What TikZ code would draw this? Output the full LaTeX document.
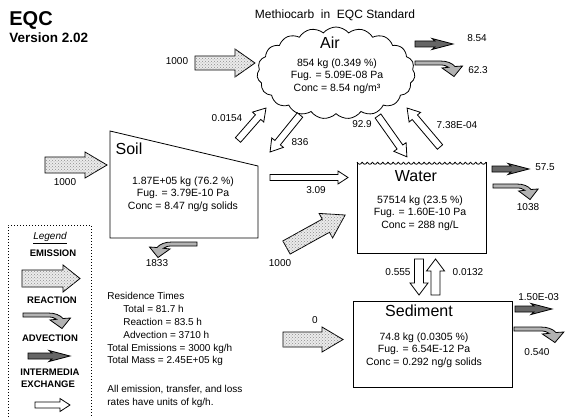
\documentclass[tikz,border=0pt]{standalone}
\usepackage{fontspec}
\setmainfont{Liberation Sans}
\usetikzlibrary{shapes.symbols,patterns}

\tikzset{
  emis/.style={draw,fill=black!8,postaction={pattern=crosshatch dots,pattern color=black!45}},
  react/.style={draw,fill=black!30},
  advec/.style={draw,fill=black!60},
  xchg/.style={draw,fill=white},
  lbl/.style={font=\fontsize{10}{12}\selectfont,inner sep=0pt,text height=7.2pt,text depth=0pt},
  cname/.style={font=\fontsize{16}{18}\selectfont,inner sep=0pt,text height=11.5pt,text depth=0pt},
  cdata/.style={font=\fontsize{10.5}{12.5}\selectfont,align=center,inner sep=0pt,anchor=north},
  legtxt/.style={font=\bfseries\fontsize{9.5}{11}\selectfont,inner sep=0pt,text height=6.8pt,text depth=0pt}
}

% block arrow: style, x, y, angle, length, shaft half, head half, head length
\newcommand{\blockarr}[8]{%
  \draw[#1,shift={(#2,#3)},rotate=#4] (0,-#6) -- (#5-#8,-#6) -- (#5-#8,-#7) -- (#5,0)
    -- (#5-#8,#7) -- (#5-#8,#6) -- (0,#6) -- cycle;}
% advection arrow: x, y, length
\newcommand{\advarr}[3]{%
  \draw[advec,shift={(#1,#2)}] (0,-3) -- (#3-18,-3) -- (#3-21,-5.5) -- (#3,0)
    -- (#3-21,5.5) -- (#3-18,3) -- (0,3) -- cycle;}
% reaction arrow: x, y, xscale
\newcommand{\reacarr}[3]{%
  \draw[react,shift={(#1,#2)},xscale=#3] (0,0) -- (25,0) .. controls (32,0) and (37,2) .. (40,5.5)
    -- (47.5,5) -- (39,15.5) -- (27,7) -- (33.5,6.3) .. controls (31,4.5) and (29,4) .. (25,4) -- (0,4) -- cycle;}

\begin{document}
\begin{tikzpicture}[x=1pt,y=-1pt,line width=0.8pt]
\useasboundingbox (0,0) rectangle (567,417);

% heading
\node[font=\bfseries\fontsize{20}{22}\selectfont,anchor=base west,inner sep=0pt] (eqc) at (9,26) {EQC};
\node[font=\bfseries\fontsize{13.5}{15}\selectfont,anchor=base west,inner sep=0pt] (version) at (9,43) {Version 2.02};
\node[inner sep=0pt,font=\fontsize{12}{14}\selectfont] (title) at (335,15) {Methiocarb\ \ in\ \ EQC Standard};

% compartments
\node[cloud,draw,cloud puffs=19,cloud puff arc=100,aspect=1.7,minimum width=158pt,minimum height=92pt] (air) at (336,73) {};
\draw (110,131) -- (258,166) -- (258,238) -- (110,238) -- cycle;
\draw (486,162) -- (486,253) -- (357,253) -- (357,162);
\foreach \i in {0,...,24}
  \draw ({357+\i*5.16},162) .. controls ({358.3+\i*5.16},165) and ({360.9+\i*5.16},165) .. ({362.16+\i*5.16},162);
\draw (353,301) rectangle (512,387);

\node[cname] (airname) at (330,43) {Air};
\node[cdata] (airdata) at (337,58.1) {854 kg (0.349 \%)\\Fug. = 5.09E-08 Pa\\Conc = 8.54 ng/m³};
\node[cname] (soilname) at (129,149) {Soil};
\node[cdata] (soildata) at (183,176.1) {1.87E+05 kg (76.2 \%)\\Fug. = 3.79E-10 Pa\\Conc = 8.47 ng/g solids};
\node[cname] (watername) at (416,176) {Water};
\node[cdata] (waterdata) at (420,195.1) {57514 kg (23.5 \%)\\Fug. = 1.60E-10 Pa\\Conc = 288 ng/L};
\node[cname] (sedname) at (419,311) {Sediment};
\node[cdata] (seddata) at (424,332.1) {74.8 kg (0.0305 \%)\\Fug. = 6.54E-12 Pa\\Conc = 0.292 ng/g solids};

% emissions
\blockarr{emis}{195}{63}{0}{60}{7}{14}{20}
\blockarr{emis}{45}{165}{0}{62}{8}{13}{22}
\blockarr{emis}{286.5}{247.5}{29}{67}{7.5}{14}{22}
\blockarr{emis}{283}{339.5}{0}{60}{7.5}{12.5}{21}
\node[lbl] (eair) at (177,61) {1000};
\node[lbl] (esoil) at (65,182) {1000};
\node[lbl] (ewater) at (280,263) {1000};
\node[lbl] (esed) at (315,320) {0};

% advection and reaction losses
\advarr{415}{44}{38}
\reacarr{415}{61}{1}
\advarr{492}{169}{37}
\reacarr{493}{184}{0.95}
\advarr{515}{309}{37}
\reacarr{514}{327}{1.05}
\reacarr{197}{242}{-1}
\node[lbl] (aair) at (477,38) {8.54};
\node[lbl] (rair) at (478,70) {62.3};
\node[lbl] (awater) at (545,167) {57.5};
\node[lbl] (rwater) at (528,207) {1038};
\node[lbl,anchor=west] (ased) at (518,297) {1.50E-03};
\node[lbl] (rsed) at (537,352) {0.540};
\node[lbl] (rsoil) at (157,263) {1833};

% intermedia exchange
\blockarr{xchg}{238}{140}{48.8}{42.5}{3.5}{7.5}{12}
\blockarr{xchg}{300}{115}{-129}{47.6}{3.5}{7.5}{12}
\blockarr{xchg}{378}{116}{-54.7}{50}{3.5}{7.5}{12}
\blockarr{xchg}{440}{147}{130.2}{51}{3.5}{7.5}{12}
\blockarr{xchg}{270}{177.5}{0}{78}{3}{6.5}{10}
\blockarr{xchg}{419}{259}{-90}{36}{4.5}{9}{12}
\blockarr{xchg}{435.5}{295}{90}{36}{4.5}{9}{12}
\node[lbl] (xsa) at (227,118) {0.0154};
\node[lbl] (xas) at (300,142) {836};
\node[lbl] (xaw) at (362,124) {92.9};
\node[lbl] (xwa) at (457,125) {7.38E-04};
\node[lbl] (xsw) at (316,190) {3.09};
\node[lbl] (xwd) at (398,272) {0.555};
\node[lbl] (xdw) at (468,272) {0.0132};

% summary
\node[font=\fontsize{10}{12.8}\selectfont,align=left,anchor=north west,inner sep=0pt] (summary) at (107,292.3)
  {Residence Times\\
   \hspace*{16pt}Total = 81.7 h\\
   \hspace*{16pt}Reaction = 83.5 h\\
   \hspace*{16pt}Advection = 3710 h\\
   Total Emissions = 3000 kg/h\\
   Total Mass = 2.45E+05 kg\\[16.2pt]
   All emission, transfer, and loss\\
   rates have units of kg/h.};

% legend
\draw[dotted,line width=1pt] (8,420) -- (8,225) -- (91,225) -- (91,420);
\node[font=\itshape\fontsize{10}{12}\selectfont,inner sep=0pt] (legend) at (50,238) {\underline{Legend}};
\node[legtxt] (lemis) at (53,253) {EMISSION};
\blockarr{emis}{22}{278.5}{0}{58}{8.5}{13.5}{17}
\node[legtxt] (lreac) at (52,300) {REACTION};
\reacarr{23}{313}{1}
\node[legtxt] (ladv) at (50,338) {ADVECTION};
\advarr{28}{356}{42}
\node[legtxt] (linter) at (50,372) {INTERMEDIA};
\node[legtxt] (lexch) at (48,384) {EXCHANGE};
\blockarr{xchg}{35}{405}{0}{35}{3}{6.5}{10}
\end{tikzpicture}
\end{document}
